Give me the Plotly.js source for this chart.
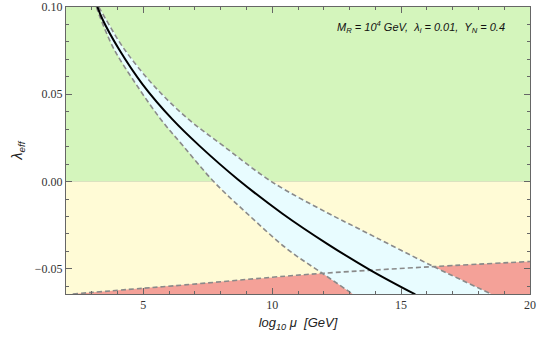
<!DOCTYPE html>
<html>
<head>
<meta charset="utf-8">
<script src="https://cdn.plot.ly/plotly-3.0.1.min.js"></script>
<style>html,body{margin:0;padding:0;background:#fff;}#chart{width:538px;height:344px;}</style>
</head>
<body>
<div id="chart"></div>
<script>
// ---- data ----
const xRange = [2, 20];
const yRange = [-0.0644, 0.10];

// central running of lambda_eff
const muCentral  = [3.22, 3.41, 4.05, 4.97, 6.13, 7.19, 8.67, 10.4, 12.15, 13.82, 15.55];
const lamCentral = [0.100, 0.0931, 0.0759, 0.0557, 0.0356, 0.0203, 0.0012, -0.0184, -0.0358, -0.0508, -0.0646];

// lower edge of uncertainty band
const muLower  = [3.18, 3.35, 3.86, 4.72, 5.68, 6.55, 7.73, 9.1, 10.62, 11.96, 13.12];
const lamLower = [0.100, 0.0931, 0.0759, 0.0557, 0.0356, 0.0203, 0.0, -0.0193, -0.0391, -0.0527, -0.0644];

// upper edge of uncertainty band
const muUpper  = [3.27, 3.54, 4.24, 5.36, 6.7, 8.15, 9.97, 12.15, 13.3, 16.26, 18.5];
const lamUpper = [0.100, 0.0931, 0.0763, 0.0557, 0.0363, 0.0199, 0.0, -0.018, -0.0266, -0.0487, -0.0644];

// metastability bound
const muBound  = [2.26, 5, 6.6, 10, 12, 16.26, 20];
const lamBound = [-0.0644, -0.0611, -0.0592, -0.0548, -0.0525, -0.0487, -0.0458];

const xTickVals = [5, 10, 15, 20];
const xTickText = ['5', '10', '15', '20'];
const yTickVals = [-0.05, 0.0, 0.05, 0.10];
const yTickText = ['\u22120.05', '0.00', '0.05', '0.10'];

// ---- traces ----
const smooth = {shape: 'spline', smoothing: 1};
const dashLine = Object.assign({color: '#8a8a8a', width: 1.6, dash: '5px,3px'}, smooth);
const traces = [
  { // stable region
    x: [xRange[0], xRange[1], xRange[1], xRange[0]],
    y: [0, 0, yRange[1], yRange[1]],
    mode: 'lines', fill: 'toself', fillcolor: '#d4f5bc', line: {width: 0}
  },
  { // metastable region
    x: [xRange[0], xRange[1], xRange[1], xRange[0]],
    y: [yRange[0], yRange[0], 0, 0],
    mode: 'lines', fill: 'toself', fillcolor: '#fffbd6', line: {width: 0}
  },
  { // unstable region
    x: muBound.concat([xRange[1]]),
    y: lamBound.concat([yRange[0]]),
    mode: 'lines', fill: 'toself', fillcolor: '#f4a198', line: {width: 0}
  },
  { // band
    x: muLower.concat(muUpper.slice().reverse()),
    y: lamLower.concat(lamUpper.slice().reverse()),
    mode: 'lines', fill: 'toself', fillcolor: '#e8fcff', line: {width: 0}
  },
  {x: muLower, y: lamLower, mode: 'lines', line: dashLine},
  {x: muUpper, y: lamUpper, mode: 'lines', line: dashLine},
  {x: muBound, y: lamBound, mode: 'lines', line: dashLine},
  {x: muCentral, y: lamCentral, mode: 'lines', line: Object.assign({color: '#000', width: 2}, smooth)}
];

const tickFont = {family: 'Liberation Serif, serif', size: 12, color: '#333'};
const layout = {
  width: 538, height: 344,
  margin: {l: 66, r: 8, t: 7, b: 50},
  paper_bgcolor: '#ffffff', plot_bgcolor: '#ffffff',
  showlegend: false,
  xaxis: {
    range: xRange, showgrid: false, zeroline: false,
    showline: true, linecolor: '#666', linewidth: 1, mirror: 'ticks',
    ticks: 'inside', ticklen: 6, tickcolor: '#666', tickwidth: 1,
    tickvals: xTickVals, ticktext: xTickText, tickfont: tickFont,
    minor: {ticks: 'inside', dtick: 1, ticklen: 3, tickcolor: '#666'},
    layer: 'above traces',
    title: {text: '<i>log<sub>10</sub> \u03bc  [GeV]</i>', font: {family: 'Liberation Sans, Arial, sans-serif', size: 13, color: '#222'}, standoff: 6}
  },
  yaxis: {
    range: yRange, showgrid: false,
    zeroline: true, zerolinecolor: '#9a9a9a', zerolinewidth: 1,
    showline: true, linecolor: '#666', linewidth: 1, mirror: 'ticks',
    ticks: 'inside', ticklen: 6, tickcolor: '#666', tickwidth: 1,
    tickvals: yTickVals, ticktext: yTickText, tickfont: tickFont,
    minor: {ticks: 'inside', dtick: 0.01, ticklen: 3, tickcolor: '#666'},
    layer: 'above traces',
    title: {text: '<i>\u03bb<sub>eff</sub></i>', font: {family: 'Liberation Sans, Arial, sans-serif', size: 14, color: '#222'}, standoff: 8}
  },
  annotations: [{
    xref: 'paper', yref: 'paper', x: 0.765, y: 0.93, xanchor: 'center', yanchor: 'middle',
    showarrow: false,
    text: '<i>M<sub>R</sub> = 10<sup>4</sup> GeV,  \u03bb<sub>i</sub> = 0.01,  Y<sub>N</sub> = 0.4</i>',
    font: {family: 'Liberation Sans, Arial, sans-serif', size: 11, color: '#111'}
  }]
};

Plotly.newPlot('chart', traces, layout, {staticPlot: true, displayModeBar: false});
</script>
</body>
</html>
